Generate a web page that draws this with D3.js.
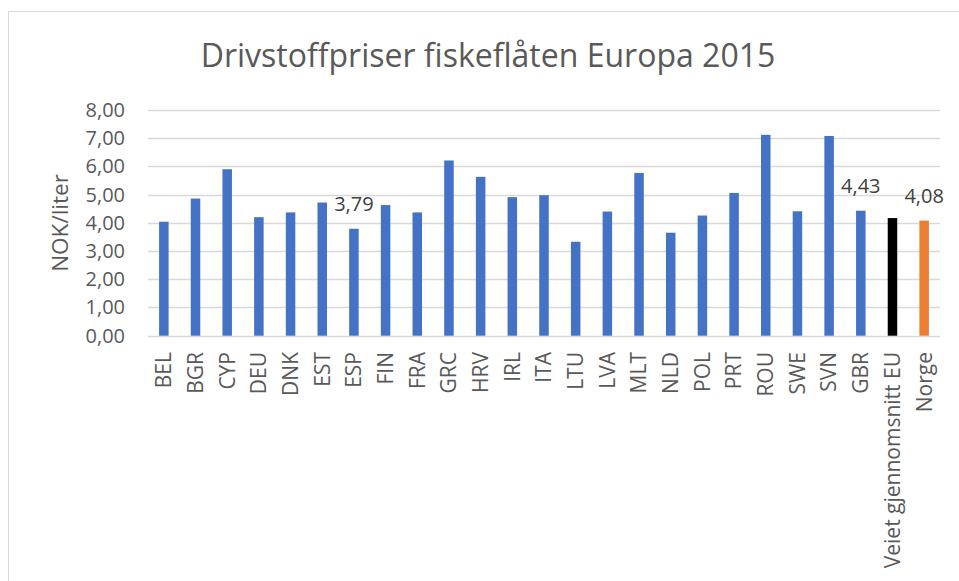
<!DOCTYPE html>
<html><head><meta charset="utf-8">
<script src="https://cdn.jsdelivr.net/npm/d3@7"></script>
<style>body{margin:0;background:#fff}svg{display:block}text{font-family:"Open Sans",sans-serif}</style>
</head><body>
<script>
const categories = ["BEL","BGR","CYP","DEU","DNK","EST","ESP","FIN","FRA","GRC","HRV","IRL","ITA","LTU","LVA","MLT","NLD","POL","PRT","ROU","SWE","SVN","GBR","Veiet gjennomsnitt EU","Norge"];
const values = [4.04,4.86,5.90,4.20,4.37,4.72,3.79,4.63,4.37,6.21,5.63,4.91,4.98,3.33,4.40,5.77,3.65,4.26,5.06,7.12,4.41,7.08,4.43,4.17,4.08];
const labelled = ["ESP","GBR","Norge"];
const yTicks = [0,1,2,3,4,5,6,7,8];
const title = "Drivstoffpriser fiskeflåten Europa 2015";
const yTitle = "NOK/liter";

const W = 959, H = 581;
const svg = d3.select("body").append("svg").attr("width", W).attr("height", H);
svg.append("rect").attr("x",8.5).attr("y",11.5).attr("width",W+10).attr("height",H+10)
  .attr("fill","#fff").attr("stroke","#d9d9d9").attr("stroke-width",1);

const m = {left:148, right:940, top:110, bottom:335.7};
const x = d3.scaleBand().domain(categories).range([m.left, m.right]).paddingInner(0.7).paddingOuter(0.35);
const y = d3.scaleLinear().domain([0,8]).range([m.bottom, m.top]);

svg.append("g").selectAll("line").data(yTicks).join("line")
  .attr("x1",m.left).attr("x2",m.right)
  .attr("y1",d=>Math.round(y(d))+0.5).attr("y2",d=>Math.round(y(d))+0.5)
  .attr("stroke","#d9d9d9").attr("stroke-width",1.5);

svg.append("g").selectAll("text").data(yTicks).join("text")
  .attr("x",125).attr("y",d=>y(d)).attr("dy","0.35em").attr("text-anchor","end")
  .attr("fill","#595959").attr("font-size",20).text(d=>d.toFixed(2).replace(".",","));

const color = d => d==="Norge" ? "#ed7d31" : (d==="Veiet gjennomsnitt EU" ? "#000000" : "#4472c4");
svg.append("g").selectAll("rect").data(categories).join("rect")
  .attr("x",d=>x(d)).attr("width",x.bandwidth())
  .attr("y",(d,i)=>y(values[i])).attr("height",(d,i)=>y(0)-y(values[i]))
  .attr("fill",color);

svg.append("g").selectAll("text").data(categories.filter(c=>labelled.includes(c))).join("text")
  .attr("x",d=>x(d)+x.bandwidth()/2)
  .attr("y",d=>y(values[categories.indexOf(d)])-18)
  .attr("text-anchor","middle").attr("fill","#404040").attr("font-size",20)
  .text(d=>values[categories.indexOf(d)].toFixed(2).replace(".",","));

svg.append("g").selectAll("text").data(categories).join("text")
  .attr("transform",d=>`translate(${x(d)+x.bandwidth()/2},352) rotate(-90)`)
  .attr("text-anchor","end").attr("dy","0.35em")
  .attr("fill","#595959").attr("font-size",21).text(d=>d);

svg.append("text").attr("transform","translate(60,223) rotate(-90)")
  .attr("text-anchor","middle").attr("dy","0.35em")
  .attr("fill","#595959").attr("font-size",22.5).text(yTitle);

svg.append("text").attr("x",488).attr("y",66.5).attr("text-anchor","middle")
  .attr("fill","#595959").attr("font-size",32).text(title);
</script>
</body></html>
